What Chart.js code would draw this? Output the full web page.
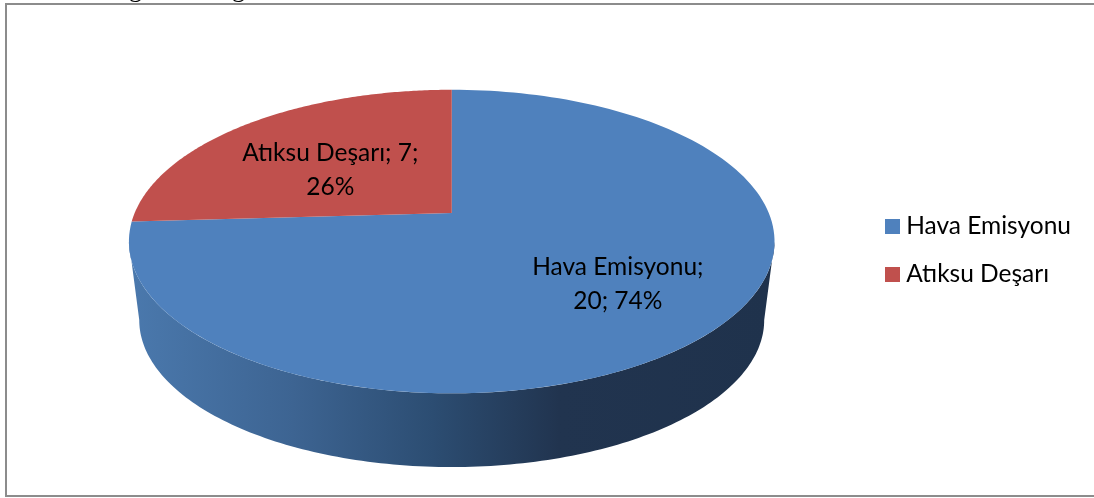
<!DOCTYPE html>
<html>
<head>
<meta charset="utf-8">
<script src="https://cdn.jsdelivr.net/npm/chart.js@4"></script>
<style>
    html, body { margin: 0; padding: 0; background: #fff; overflow: hidden; }
    #frame { position: absolute; left: 5px; top: 3px; width: 1100px; height: 490px; border: 2px solid #8c8c8c; }
    #myChart { position: absolute; left: 0; top: 0; }
</style>
</head>
<body>
<div id="frame"></div>
<canvas id="myChart" width="1094" height="498"></canvas>
<script>
const categories = ["Hava Emisyonu", "Atıksu Deşarı"];
const values = [20, 7];
const sliceLabels = [["Hava Emisyonu;", "20; 74%"], ["Atıksu Deşarı; 7;", "26%"]];
const colors = ["#4f81bd", "#c0504d"];
const labelFont = "24.5px Lato";

// perspective of the disc: everything is relative to the radius given by the library
const tilt = { k: 0.188, xRatio: 1.281, yRatio: 0.5916, centerShift: -37.5 };
const bottomPlane = { scale: 0.968, drop: 79.5 };
const labelSpots = [{ r: 0.65, dx: 2.5, dy: 0 }, { r: 0.55, dx: -3, dy: 9 }];

function project(el, angle, r, plane) {
    const u = Math.cos(angle) * r;
    const v = Math.sin(angle) * r;
    const w = 1 - tilt.k * v;
    const s = plane ? plane.scale : 1;
    const yc = el.y + tilt.centerShift + (plane ? plane.drop : 0);
    return {
        x: el.x + el.outerRadius * tilt.xRatio * s * u / w,
        y: yc + el.outerRadius * tilt.yRatio * s * v / w
    };
}

function traceRim(ctx, el, from, to, plane, first) {
    const steps = 160;
    for (let i = 0; i <= steps; i++) {
        const p = project(el, from + (to - from) * i / steps, 1, plane);
        if (i === 0 && first) ctx.moveTo(p.x, p.y);
        else ctx.lineTo(p.x, p.y);
    }
}

// side wall of the blue slice, the only one facing the viewer
function drawSide(ctx, el) {
    const a1 = Math.asin(tilt.k);
    const a2 = Math.PI - a1;
    const from = Math.max(el.startAngle, a1);
    const to = Math.min(el.endAngle, a2);
    const left = project(el, Math.PI, 1).x;
    const right = project(el, 0, 1).x;
    const grad = ctx.createLinearGradient(left, 0, right, 0);
    grad.addColorStop(0, "#4a78ac");
    grad.addColorStop(0.25, "#3d6492");
    grad.addColorStop(0.47, "#2c4d72");
    grad.addColorStop(0.67, "#21344f");
    grad.addColorStop(1, "#1f324c");
    ctx.beginPath();
    traceRim(ctx, el, a1, to, null, true);
    traceRim(ctx, el, to, from, bottomPlane, false);
    ctx.closePath();
    ctx.fillStyle = grad;
    ctx.fill();
}

function drawFace(ctx, el, color) {
    const c = project(el, 0, 0);
    ctx.beginPath();
    ctx.moveTo(c.x, c.y);
    traceRim(ctx, el, el.startAngle, el.endAngle, null, false);
    ctx.closePath();
    ctx.fillStyle = color;
    ctx.fill();
}

const perspectivePie = {
    id: "perspectivePie",
    beforeDatasetsDraw(chart) {
        const ctx = chart.ctx;
        const arcs = chart.getDatasetMeta(0).data;
        ctx.save();
        drawSide(ctx, arcs[0]);
        arcs.forEach((el, i) => drawFace(ctx, el, colors[i]));

        ctx.fillStyle = "#000";
        ctx.font = labelFont;
        ctx.textAlign = "center";
        ctx.textBaseline = "middle";
        arcs.forEach((el, i) => {
            const spot = labelSpots[i];
            const p = project(el, (el.startAngle + el.endAngle) / 2, spot.r);
            sliceLabels[i].forEach((line, n) => {
                ctx.fillText(line, p.x + spot.dx, p.y + spot.dy + (n - 0.5) * 34);
            });
        });
        ctx.restore();
        return false;
    }
};

// bits of the text line above the chart, cut by the top of the picture
const topFragments = {
    id: "topFragments",
    afterDraw(chart) {
        const ctx = chart.ctx;
        ctx.save();
        ctx.fillStyle = "#000";
        ctx.font = "26px 'Liberation Serif'";
        ctx.textAlign = "left";
        ctx.textBaseline = "alphabetic";
        ctx.fillText("g", 129, -3.5);
        ctx.fillText("g", 232, -3.5);
        ctx.restore();
    }
};

function legendBox(color) {
    const c = document.createElement("canvas");
    c.width = 15;
    c.height = 15;
    const g = c.getContext("2d");
    g.fillStyle = color;
    g.fillRect(0, 0, 15, 15);
    return c;
}

new Chart("myChart", {
    type: "pie",
    data: {
        labels: categories,
        datasets: [{ data: values, backgroundColor: colors, borderWidth: 0 }]
    },
    options: {
        responsive: false,
        animation: false,
        layout: { padding: { left: 36, right: 13, top: 3, bottom: 0 } },
        plugins: {
            tooltip: { enabled: false },
            legend: {
                position: "right",
                labels: {
                    color: "#000",
                    usePointStyle: true,
                    pointStyleWidth: 3,
                    padding: 23.5,
                    font: { family: "Lato", size: 24.5, lineHeight: "32px" },
                    generateLabels: () => categories.map((text, i) => ({
                        text: text,
                        pointStyle: legendBox(colors[i]),
                        fontColor: "#000",
                        hidden: false,
                        index: i,
                        datasetIndex: 0
                    }))
                }
            }
        }
    },
    plugins: [perspectivePie, topFragments]
});
</script>
</body>
</html>
